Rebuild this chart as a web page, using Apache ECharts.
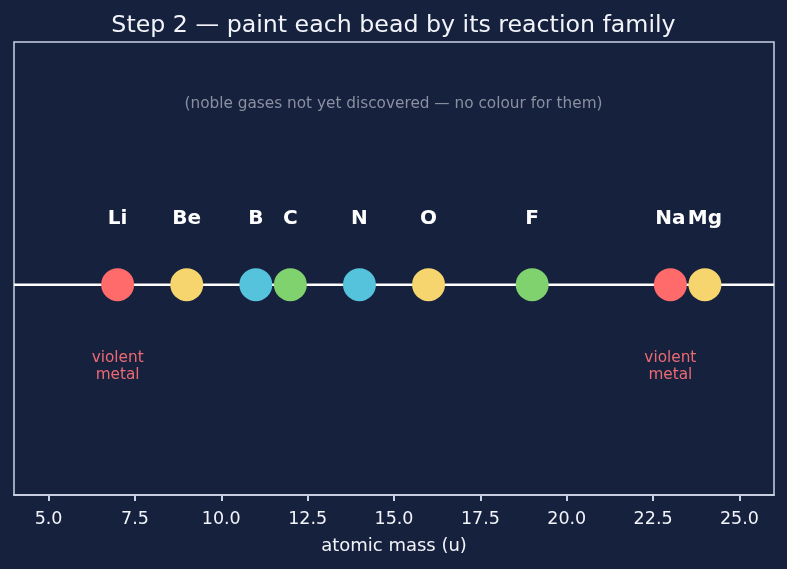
<!DOCTYPE html>
<html>
<head>
<meta charset="utf-8">
<script src="https://cdn.jsdelivr.net/npm/echarts@6/dist/echarts.min.js"></script>
<style>html,body{margin:0;padding:0;background:#16213e;}#c{width:787px;height:569px;}</style>
</head>
<body>
<div id="c"></div>
<script>
const elements = ['Li', 'Be', 'B', 'C', 'N', 'O', 'F', 'Na', 'Mg'];
const masses = [7, 9, 11, 12, 14, 16, 19, 23, 24];
const families = ['alkali', 'alkaline', 'boron', 'carbon', 'boron', 'alkaline', 'carbon', 'alkali', 'alkaline'];
const familyColours = { alkali: '#ff6b6b', alkaline: '#f7d56e', boron: '#56c3dc', carbon: '#80d26f' };
const familyNotes = { alkali: 'violent\nmetal' };
const xTicks = [5, 7.5, 10, 12.5, 15, 17.5, 20, 22.5, 25];
const titleText = 'Step 2 \u2014 paint each bead by its reaction family';
const noteText = '(noble gases not yet discovered \u2014 no colour for them)';
const xName = 'atomic mass (u)';

const font = 'DejaVu Sans';
const chart = echarts.init(document.getElementById('c'), null, { renderer: 'canvas' });

const beadData = elements.map((el, i) => ({
  value: [masses[i], 0],
  name: el,
  itemStyle: { color: familyColours[families[i]] }
}));
const noteData = elements.map((el, i) => ({ value: [masses[i], 0], note: familyNotes[families[i]] || '' }))
  .filter(d => d.note);

const gridRect = { left: 14, right: 13, top: 42, bottom: 74 };

chart.setOption({
  backgroundColor: '#16213e',
  animation: false,
  title: {
    text: titleText, left: 'center', top: 9,
    textStyle: { color: '#f2f4fa', fontFamily: font, fontSize: 23.7, fontWeight: 'normal' }
  },
  graphic: [{
    type: 'text', left: 'center', top: 97,
    style: { text: noteText, fill: '#8a90a0', font: '15.3px "DejaVu Sans"' }
  }],
  grid: [
    Object.assign({ show: false }, gridRect),
    Object.assign({ show: true, borderColor: '#c9d1e2', borderWidth: 1.5, backgroundColor: 'transparent' }, gridRect)
  ],
  xAxis: [
    { gridIndex: 0, type: 'value', min: 4, max: 26, show: false },
    {
      gridIndex: 1, type: 'value', min: 4, max: 26, position: 'bottom',
      name: xName, nameLocation: 'middle', nameGap: 42,
      nameTextStyle: { color: '#f2f4fa', fontFamily: font, fontSize: 18 },
      axisLine: { show: true, lineStyle: { color: '#c9d1e2', width: 1.5 } },
      splitLine: { show: true, lineStyle: { color: 'rgba(0,0,0,0)' } },
      axisTick: { show: true, length: 5, lineStyle: { color: '#c9d1e2', width: 1.5 }, customValues: xTicks },
      axisLabel: { color: '#f2f4fa', fontFamily: font, fontSize: 17.5, margin: 15,
        customValues: xTicks, formatter: v => v.toFixed(1) }
    },
    {
      gridIndex: 1, type: 'value', min: 4, max: 26, position: 'bottom',
      axisLine: { show: true, lineStyle: { color: '#c9d1e2', width: 1.5 } },
      splitLine: { show: true, lineStyle: { color: 'rgba(0,0,0,0)' } },
      axisTick: { show: true, length: 6, lineStyle: { color: '#c9d1e2', width: 2 }, customValues: xTicks },
      axisLabel: { show: true, color: 'rgba(0,0,0,0)', customValues: xTicks }
    }
  ],
  yAxis: [
    { gridIndex: 0, type: 'value', min: -1.3, max: 1.5, show: false },
    { gridIndex: 1, type: 'value', min: 0, max: 1, show: false }
  ],
  series: [
    {
      type: 'line', xAxisIndex: 0, yAxisIndex: 0, data: [[4, 0], [26, 0]], symbol: 'none', z: 1,
      lineStyle: { color: '#ffffff', width: 2.5 }, silent: true
    },
    {
      type: 'scatter', xAxisIndex: 0, yAxisIndex: 0, data: beadData, symbol: 'circle', symbolSize: 33, z: 3,
      itemStyle: { opacity: 1 },
      label: {
        show: true, position: 'inside', offset: [0, -66], formatter: p => p.name,
        color: '#ffffff', fontFamily: font, fontSize: 20, fontWeight: 'bold'
      }
    },
    {
      type: 'scatter', xAxisIndex: 0, yAxisIndex: 0, data: noteData, symbolSize: 0, z: 2,
      itemStyle: { opacity: 1 },
      label: {
        show: true, position: 'inside', offset: [0, 82], formatter: p => p.data.note,
        color: '#ec6a72', fontFamily: font, fontSize: 15.3, lineHeight: 17, align: 'center'
      }
    }
  ]
});
</script>
</body>
</html>
